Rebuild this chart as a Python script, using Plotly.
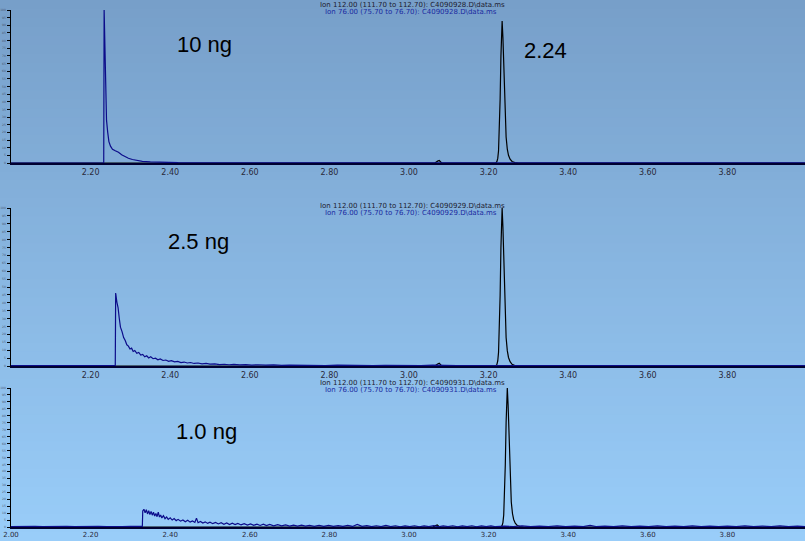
import plotly.graph_objects as go

# ---------------- data (retention time in minutes, relative abundance %) ----------------
# Panel 1: 10 ng
top_blue_t = [2.000, 2.100, 2.200, 2.233, 2.234, 2.236, 2.238, 2.240, 2.243, 2.246, 2.250, 2.255,
              2.262, 2.270, 2.278, 2.286, 2.295, 2.305, 2.318, 2.330, 2.350, 2.380, 2.420, 2.500,
              2.700, 3.000, 3.500, 3.995]
top_blue_y = [0.0, 0.0, 0.0, 0.0, 100.0, 70.0, 42.0, 28.0, 20.0, 14.0, 11.0, 9.0,
              8.0, 7.0, 5.4, 4.2, 3.1, 2.3, 1.6, 1.1, 0.7, 0.4, 0.2, 0.1,
              0.1, 0.1, 0.1, 0.1]
top_black_t = [2.000, 3.065, 3.072, 3.076, 3.082, 3.218, 3.221, 3.223, 3.225, 3.227, 3.229, 3.231,
               3.233, 3.234, 3.236, 3.238, 3.240, 3.242, 3.244, 3.247, 3.250, 3.254, 3.259,
               3.266, 3.275, 3.995]
top_black_y = [0.0, 0.0, 1.2, 1.6, 0.0, 0.0, 1.0, 3.0, 8.0, 20.0, 42.0, 70.0,
               89.0, 92.8, 82.0, 62.0, 42.0, 27.0, 17.0, 9.0, 5.0, 2.5, 1.0,
               0.3, 0.0, 0.0]

# Panel 2: 2.5 ng
mid_blue_t = [2.000, 2.050, 2.100, 2.150, 2.200, 2.250, 2.262, 2.263, 2.266, 2.269, 2.272, 2.275,
              2.279, 2.283, 2.287, 2.291, 2.295, 2.299, 2.303, 2.307, 2.311, 2.316, 2.321, 2.326,
              2.331, 2.336, 2.341, 2.346, 2.351, 2.357, 2.363, 2.369, 2.375, 2.382, 2.389, 2.396,
              2.403, 2.411, 2.419, 2.427, 2.435, 2.443, 2.451, 2.460, 2.470, 2.480, 2.490, 2.500,
              2.512, 2.524, 2.536, 2.548, 2.560, 2.575, 2.590, 2.605, 2.620, 2.640, 2.660, 2.680,
              2.700, 2.730, 2.760, 2.790, 2.820, 2.850, 2.880, 2.910, 2.940, 2.970, 3.000, 3.030,
              3.060, 3.090, 3.120, 3.150, 3.180, 3.210, 3.240, 3.300, 3.360, 3.420, 3.480, 3.540,
              3.600, 3.660, 3.720, 3.780, 3.840, 3.900, 3.995]
mid_blue_y = [0.2, 0.3, 0.2, 0.3, 0.2, 0.3, 0.2, 46.2, 40.5, 37.0, 30.2, 24.6,
              21.8, 18.0, 16.1, 13.4, 12.6, 10.8, 11.3, 9.2, 9.8, 8.0, 8.6, 6.9,
              7.3, 5.8, 6.5, 5.1, 5.8, 4.6, 4.9, 3.9, 4.5, 3.5, 3.8, 3.0,
              3.4, 2.6, 2.9, 2.2, 2.5, 1.9, 2.2, 1.6, 1.9, 1.4, 1.6, 1.2,
              1.4, 0.9, 1.1, 0.8, 1.0, 0.7, 0.9, 0.6, 0.8, 0.5, 0.7, 0.4,
              0.6, 0.4, 0.5, 0.3, 0.5, 0.3, 0.4, 0.3, 0.4, 0.2, 0.4, 0.2,
              0.5, 0.2, 0.3, 0.2, 0.3, 0.2, 0.3, 0.2, 0.3, 0.2, 0.3, 0.2,
              0.3, 0.2, 0.3, 0.2, 0.3, 0.2, 0.2]
mid_black_t = [2.000, 3.065, 3.072, 3.076, 3.082, 3.218, 3.221, 3.223, 3.225, 3.227, 3.229, 3.231,
               3.233, 3.234, 3.236, 3.238, 3.240, 3.242, 3.244, 3.247, 3.250, 3.254, 3.259,
               3.266, 3.275, 3.995]
mid_black_y = [0.0, 0.0, 1.3, 1.8, 0.0, 0.0, 1.1, 3.2, 8.6, 21.5, 45.0, 75.0,
               96.0, 100.0, 88.0, 67.0, 45.0, 29.0, 18.0, 9.7, 5.4, 2.7, 1.1,
               0.3, 0.0, 0.0]

# Panel 3: 1.0 ng
bot_blue_t = [2.000, 2.020, 2.040, 2.060, 2.080, 2.100, 2.120, 2.140, 2.160, 2.180, 2.200, 2.220,
              2.240, 2.260, 2.280, 2.300, 2.320, 2.330, 2.331, 2.334, 2.337, 2.340, 2.343, 2.346,
              2.349, 2.352, 2.355, 2.358, 2.361, 2.364, 2.367, 2.370, 2.373, 2.376, 2.379, 2.383,
              2.387, 2.391, 2.395, 2.400, 2.405, 2.410, 2.415, 2.420, 2.426, 2.432, 2.438, 2.444,
              2.450, 2.456, 2.462, 2.466, 2.470, 2.476, 2.482, 2.488, 2.494, 2.500, 2.507, 2.514,
              2.521, 2.528, 2.535, 2.542, 2.549, 2.556, 2.563, 2.570, 2.578, 2.586, 2.594, 2.602,
              2.610, 2.618, 2.626, 2.634, 2.642, 2.650, 2.660, 2.670, 2.680, 2.690, 2.700, 2.710,
              2.720, 2.730, 2.740, 2.750, 2.762, 2.774, 2.786, 2.798, 2.810, 2.822, 2.834, 2.846,
              2.858, 2.870, 2.882, 2.894, 2.906, 2.918, 2.930, 2.942, 2.954, 2.966, 2.978, 2.990,
              3.002, 3.014, 3.026, 3.038, 3.050, 3.062, 3.074, 3.086, 3.098, 3.110, 3.122, 3.134,
              3.146, 3.158, 3.170, 3.182, 3.194, 3.206, 3.218, 3.240, 3.262, 3.284, 3.306, 3.328,
              3.350, 3.372, 3.394, 3.416, 3.438, 3.455, 3.470, 3.492, 3.514, 3.536, 3.558, 3.580,
              3.602, 3.624, 3.646, 3.668, 3.690, 3.712, 3.734, 3.756, 3.778, 3.800, 3.822, 3.844,
              3.866, 3.888, 3.910, 3.932, 3.954, 3.976, 3.995]
bot_blue_y = [0.3, 0.5, 0.2, 0.4, 0.3, 0.5, 0.2, 0.4, 0.3, 0.5, 0.3, 0.4,
              0.2, 0.5, 0.3, 0.4, 0.3, 0.4, 11.5, 12.8, 10.2, 12.4, 9.4, 11.8,
              8.9, 11.2, 8.5, 10.6, 7.9, 9.8, 7.4, 10.7, 7.2, 8.6, 6.5, 8.1,
              6.0, 7.2, 5.5, 6.6, 5.0, 6.1, 4.6, 5.5, 4.2, 5.1, 3.8, 4.8,
              3.5, 4.4, 3.3, 6.4, 3.1, 4.0, 2.8, 3.7, 2.6, 3.5, 2.4, 3.3,
              2.2, 3.1, 2.0, 2.9, 1.8, 2.7, 1.7, 2.6, 1.5, 2.4, 1.4, 2.2,
              1.2, 2.1, 1.1, 2.0, 1.0, 1.8, 0.9, 1.7, 0.8, 1.5, 0.7, 1.4,
              0.6, 1.3, 0.6, 1.2, 0.5, 1.1, 0.4, 1.1, 0.5, 1.0, 0.4, 1.1,
              0.4, 1.8, 0.5, 1.0, 0.3, 0.9, 0.3, 1.1, 0.3, 0.9, 0.2, 0.8,
              0.3, 0.9, 0.2, 0.8, 0.3, 1.0, 0.2, 0.8, 0.3, 0.9, 0.2, 0.8,
              0.3, 0.9, 0.2, 0.8, 0.3, 0.8, 0.2, 0.7, 0.3, 0.8, 0.2, 0.7,
              0.3, 0.8, 0.2, 0.7, 0.3, 1.2, 0.3, 0.7, 0.2, 0.8, 0.3, 0.7,
              0.2, 0.8, 0.3, 0.7, 0.2, 0.8, 0.3, 0.7, 0.2, 0.7, 0.3, 0.8,
              0.2, 0.7, 0.3, 0.8, 0.2, 0.7, 0.3]
bot_black_t = [2.000, 3.060, 3.067, 3.071, 3.077, 3.231, 3.234, 3.236, 3.238, 3.240, 3.242, 3.244,
               3.246, 3.247, 3.249, 3.251, 3.253, 3.255, 3.257, 3.260, 3.263, 3.267, 3.272,
               3.279, 3.288, 3.995]
bot_black_y = [0.0, 0.0, 1.0, 1.4, 0.0, 0.0, 1.1, 3.2, 8.6, 21.5, 45.0, 75.0,
               96.0, 100.0, 88.0, 67.0, 45.0, 29.0, 18.0, 9.7, 5.4, 2.7, 1.1,
               0.3, 0.0, 0.0]

x_ticks_full = [2.00, 2.20, 2.40, 2.60, 2.80, 3.00, 3.20, 3.40, 3.60, 3.80]
x_ticks_part = [2.20, 2.40, 2.60, 2.80, 3.00, 3.20, 3.40, 3.60, 3.80]
x_tick_text_full = ["2.00", "2.20", "2.40", "2.60", "2.80", "3.00", "3.20", "3.40", "3.60", "3.80"]
x_tick_text_part = ["2.20", "2.40", "2.60", "2.80", "3.00", "3.20", "3.40", "3.60", "3.80"]

panel_labels = ["10 ng", "2.5 ng", "1.0 ng"]
header_ion112 = [r"Ion 112.00 (111.70 to 112.70): C4090928.D\data.ms",
                 r"Ion 112.00 (111.70 to 112.70): C4090929.D\data.ms",
                 r"Ion 112.00 (111.70 to 112.70): C4090931.D\data.ms"]
header_ion76 = [r"Ion 76.00 (75.70 to 76.70): C4090928.D\data.ms",
                r"Ion 76.00 (75.70 to 76.70): C4090929.D\data.ms",
                r"Ion 76.00 (75.70 to 76.70): C4090931.D\data.ms"]
peak_label = "2.24"

# ---------------- layout geometry ----------------
W, H = 805, 541
def py(px):
    return 1 - px / H
def pxx(px):
    return px / W

x_left = 11 / W
domains = [(py(163), py(10)), (py(366), py(208)), (py(527), py(388))]

BLUE = "#0c0c8a"
BLACK = "#000000"

fig = go.Figure()

series = [
    (top_black_t, top_black_y, top_blue_t, top_blue_y),
    (mid_black_t, mid_black_y, mid_blue_t, mid_blue_y),
    (bot_black_t, bot_black_y, bot_blue_t, bot_blue_y),
]
for i, (bt, by, ct, cy) in enumerate(series):
    xa = "x" if i == 0 else f"x{i+1}"
    ya = "y" if i == 0 else f"y{i+1}"
    fig.add_trace(go.Scatter(x=bt, y=by, mode="lines", line=dict(color=BLACK, width=1.2),
                             xaxis=xa, yaxis=ya, showlegend=False, hoverinfo="skip"))
    fig.add_trace(go.Scatter(x=ct, y=cy, mode="lines", line=dict(color=BLUE, width=1.2),
                             xaxis=xa, yaxis=ya, showlegend=False, hoverinfo="skip"))

layout = dict(
    width=W, height=H,
    margin=dict(l=0, r=0, t=0, b=0),
    paper_bgcolor="#89b6e2",
    plot_bgcolor="rgba(0,0,0,0)",
    showlegend=False,
)

for i in range(3):
    xk = "xaxis" if i == 0 else f"xaxis{i+1}"
    yk = "yaxis" if i == 0 else f"yaxis{i+1}"
    ya = "y" if i == 0 else f"y{i+1}"
    xa = "x" if i == 0 else f"x{i+1}"
    tv = x_ticks_full if i == 2 else x_ticks_part
    tt = x_tick_text_full if i == 2 else x_tick_text_part
    layout[xk] = dict(domain=[x_left, 1], range=[2.0, 3.995], anchor=ya,
                      showline=True, linecolor="#000030", linewidth=2,
                      showgrid=False, zeroline=False, ticks="", ticklen=0,
                      tickvals=tv, ticktext=tt,
                      tickfont=dict(family="DejaVu Sans", size=8 if i < 2 else 7,
                                    color="#2a2a3a"),
                      automargin=False, fixedrange=True)
    layout[yk] = dict(domain=list(domains[i]), range=[0, 100], anchor=xa,
                      showline=True, linecolor="#000000", linewidth=1.5,
                      showgrid=False, zeroline=False, ticks="outside", ticklen=3,
                      tickcolor="#000000", tickwidth=1, dtick=5,
                      tickfont=dict(family="DejaVu Sans", size=3, color="#4a5a70"),
                      automargin=False, fixedrange=True)

fig.update_layout(**layout)

# background vertical gradient
top_rgb = (0x77, 0x9f, 0xc9)
bot_rgb = (0x99, 0xcd, 0xf9)
n = 60
shapes = []
for k in range(n):
    f = (k + 0.5) / n
    c = tuple(int(round(top_rgb[j] + (bot_rgb[j] - top_rgb[j]) * f)) for j in range(3))
    shapes.append(dict(type="rect", xref="paper", yref="paper", x0=0, x1=1,
                       y0=1 - (k + 1) / n - 0.002, y1=1 - k / n,
                       fillcolor="rgb(%d,%d,%d)" % c, line=dict(width=0), layer="below"))
fig.update_layout(shapes=shapes)

annotations = []
header_y = [(5, 12), (206, 213), (383, 390)]
for i in range(3):
    annotations.append(dict(text=header_ion112[i], xref="paper", yref="paper",
                            x=pxx(412), y=py(header_y[i][0]), showarrow=False,
                            xanchor="center", yanchor="middle",
                            font=dict(family="DejaVu Sans", size=7, color="#202030")))
    annotations.append(dict(text=header_ion76[i], xref="paper", yref="paper",
                            x=pxx(411), y=py(header_y[i][1]), showarrow=False,
                            xanchor="center", yanchor="middle",
                            font=dict(family="DejaVu Sans", size=7, color="#1a2aa0")))

label_pos = [(204, 44), (198, 241), (207, 431)]
for i in range(3):
    annotations.append(dict(text=panel_labels[i], xref="paper", yref="paper",
                            x=pxx(label_pos[i][0]), y=py(label_pos[i][1]), showarrow=False,
                            xanchor="center", yanchor="middle",
                            font=dict(family="Liberation Sans", size=22, color="#000000")))
annotations.append(dict(text=peak_label, xref="paper", yref="paper",
                        x=pxx(545), y=py(50), showarrow=False,
                        xanchor="center", yanchor="middle",
                        font=dict(family="Liberation Sans", size=22, color="#000000")))
fig.update_layout(annotations=annotations)

fig.write_html("out.html",
               config={"displayModeBar": False, "staticPlot": True},
               post_script="document.body.style.margin='0px';"
                           "document.body.style.overflow='hidden';"
                           "document.documentElement.style.overflow='hidden';")
